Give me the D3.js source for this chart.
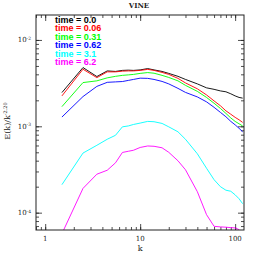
<!DOCTYPE html>
<html>
<head>
<meta charset="utf-8">
<script src="https://cdn.jsdelivr.net/npm/d3@7"></script>
<style>
body { margin: 0; background: #fff; }
</style>
</head>
<body>
<svg id="chart" width="258" height="258"></svg>
<script>
// wavenumbers shared by every spectrum
var kValues = [1.5, 2.5, 3.5, 4.5, 5.5, 6.5, 7.5, 8.5, 10, 12, 14, 17, 20, 25, 30, 40, 50, 60, 70, 80, 90, 100, 110, 120];

// compensated spectra E(k)/k^-2.20, one array per output time
var time00  = [2.46e-3, 4.79e-3, 3.77e-3, 4.38e-3, 4.32e-3, 4.44e-3, 4.47e-3, 4.44e-3, 4.50e-3, 4.66e-3, 4.50e-3, 4.32e-3, 4.10e-3, 3.79e-3, 3.49e-3, 3.10e-3, 2.79e-3, 2.68e-3, 2.57e-3, 2.51e-3, 2.38e-3, 2.25e-3, 2.16e-3, 2.12e-3];
var time006 = [2.25e-3, 4.58e-3, 3.66e-3, 4.27e-3, 4.27e-3, 4.35e-3, 4.38e-3, 4.38e-3, 4.44e-3, 4.56e-3, 4.44e-3, 4.21e-3, 3.99e-3, 3.59e-3, 3.18e-3, 2.72e-3, 2.31e-3, 1.97e-3, 1.73e-3, 1.51e-3, 1.38e-3, 1.27e-3, 1.19e-3, 1.11e-3];
var time031 = [1.69e-3, 3.21e-3, 3.36e-3, 3.64e-3, 3.79e-3, 3.89e-3, 3.94e-3, 3.99e-3, 4.10e-3, 4.19e-3, 4.12e-3, 3.89e-3, 3.68e-3, 3.36e-3, 2.98e-3, 2.54e-3, 2.16e-3, 1.85e-3, 1.61e-3, 1.41e-3, 1.25e-3, 1.14e-3, 1.07e-3, 1.01e-3];
var time062 = [1.28e-3, 2.21e-3, 2.90e-3, 3.23e-3, 3.27e-3, 3.30e-3, 3.40e-3, 3.49e-3, 3.61e-3, 3.59e-3, 3.49e-3, 3.31e-3, 3.10e-3, 2.75e-3, 2.47e-3, 2.19e-3, 1.92e-3, 1.66e-3, 1.45e-3, 1.29e-3, 1.14e-3, 1.04e-3, 9.48e-4, 8.64e-4];
var time31  = [2.11e-4, 4.90e-4, 6.03e-4, 7.08e-4, 7.87e-4, 9.86e-4, 1.01e-3, 1.05e-3, 1.09e-3, 1.14e-3, 1.13e-3, 1.08e-3, 9.86e-4, 8.64e-4, 7.08e-4, 4.81e-4, 3.27e-4, 2.41e-4, 2.00e-4, 1.82e-4, 1.77e-4, 1.61e-4, 1.45e-4, 1.27e-4];
var time62  = [5.71e-5, 1.91e-4, 2.79e-4, 3.10e-4, 3.78e-4, 4.98e-4, 5.14e-4, 5.28e-4, 5.69e-4, 5.92e-4, 5.87e-4, 5.64e-4, 5.00e-4, 3.99e-4, 3.14e-4, 1.75e-4, 9.48e-5, 6.95e-5, 6.84e-5, 6.79e-5, 6.71e-5, 6.66e-5, 6.36e-5, 5.60e-5];

var seriesLabels = ["time = 0.0", "time = 0.06", "time = 0.31", "time = 0.62", "time = 3.1", "time = 6.2"];
var seriesValues = [time00, time006, time031, time062, time31, time62];
var seriesColors = ["#000000", "#ff0000", "#00ff00", "#0000ff", "#00ffff", "#ff00ff"];

var xTickLabels = ["1", "10", "100"];
var xTickValues = [1, 10, 100];
var yTickValues = [1e-4, 1e-3, 1e-2];
var yTickExponents = ["-4", "-3", "-2"];

var svg = d3.select("#chart");
var pLeft = 36, pRight = 244, pTop = 15, pBottom = 230;

var x = d3.scaleLog().domain([0.8, 124]).range([pLeft, pRight]);
var y = d3.scaleLog().domain([6.3e-5, 1.945e-2]).range([pBottom, pTop]);

svg.append("defs").append("clipPath").attr("id", "plotclip")
    .append("rect")
    .attr("x", pLeft).attr("y", pTop)
    .attr("width", pRight - pLeft).attr("height", pBottom - pTop);

// minor ticks for the log axes
var xMinor = [];
[0.1, 1, 10, 100].forEach(function(d){
    for (var i = 1; i < 10; i++) {
        var v = d * i;
        if (v >= 0.8 && v <= 124) xMinor.push(v);
    }
});
var yMinor = [];
[1e-5, 1e-4, 1e-3, 1e-2].forEach(function(d){
    for (var i = 1; i < 10; i++) {
        var v = d * i;
        if (v >= 6.3e-5 && v <= 1.945e-2) yMinor.push(v);
    }
});

function drawAxis(axis, pos, values, size){
    svg.append("g")
        .attr("transform", pos)
        .call(axis.tickValues(values).tickSize(size).tickFormat(""))
        .call(function(g){
            g.select(".domain").remove();
            g.selectAll("line").attr("stroke", "#222").attr("stroke-width", 0.8);
        });
}

drawAxis(d3.axisBottom(x), "translate(0," + pBottom + ")", xMinor, -3);
drawAxis(d3.axisBottom(x), "translate(0," + pBottom + ")", xTickValues, -6);
drawAxis(d3.axisTop(x), "translate(0," + pTop + ")", xMinor, -3);
drawAxis(d3.axisTop(x), "translate(0," + pTop + ")", xTickValues, -6);
drawAxis(d3.axisLeft(y), "translate(" + pLeft + ",0)", yMinor, -3);
drawAxis(d3.axisLeft(y), "translate(" + pLeft + ",0)", yTickValues, -6);
drawAxis(d3.axisRight(y), "translate(" + pRight + ",0)", yMinor, -3);
drawAxis(d3.axisRight(y), "translate(" + pRight + ",0)", yTickValues, -6);

// lines
var line = d3.line()
    .x(function(d){ return x(d[0]); })
    .y(function(d){ return y(d[1]); });

var plot = svg.append("g").attr("clip-path", "url(#plotclip)");
seriesValues.forEach(function(vals, i){
    plot.append("path")
        .datum(kValues.map(function(k, j){ return [k, vals[j]]; }))
        .attr("fill", "none")
        .attr("stroke", seriesColors[i])
        .attr("stroke-width", 0.9)
        .attr("d", line);
});

// frame
svg.append("rect")
    .attr("x", pLeft).attr("y", pTop)
    .attr("width", pRight - pLeft).attr("height", pBottom - pTop)
    .attr("fill", "none").attr("stroke", "#222").attr("stroke-width", 1);

// tick labels
var tickFont = "DejaVu Serif";
xTickLabels.forEach(function(t, i){
    svg.append("text")
        .attr("x", x(xTickValues[i])).attr("y", 240.5)
        .attr("text-anchor", "middle")
        .attr("font-family", tickFont).attr("font-size", 7)
        .attr("fill", "#222")
        .text(t);
});
yTickValues.forEach(function(v, i){
    var t = svg.append("text")
        .attr("x", pLeft - 5).attr("y", y(v) + 2.5)
        .attr("text-anchor", "end")
        .attr("font-family", tickFont).attr("font-size", 7)
        .attr("fill", "#222");
    t.append("tspan").text("10");
    t.append("tspan").attr("dy", -2.5).attr("font-size", 4.5).text(yTickExponents[i]);
});

// axis titles
svg.append("text")
    .attr("x", x(10)).attr("y", 251)
    .attr("text-anchor", "middle")
    .attr("font-family", tickFont).attr("font-size", 8)
    .attr("fill", "#222")
    .text("k");

var yl = svg.append("text")
    .attr("transform", "translate(9.5,121) rotate(-90)")
    .attr("text-anchor", "middle")
    .attr("font-family", tickFont).attr("font-size", 8)
    .attr("fill", "#222");
yl.append("tspan").text("E(k)/k");
yl.append("tspan").attr("dy", -3).attr("font-size", 5).text("-2.20");

svg.append("text")
    .attr("x", 139).attr("y", 7.5)
    .attr("text-anchor", "middle")
    .attr("font-family", tickFont).attr("font-size", 7).attr("font-weight", "bold")
    .attr("fill", "#222")
    .text("VINE");

// legend
seriesLabels.forEach(function(s, i){
    svg.append("text")
        .attr("x", 55).attr("y", 22.5 + i * 8.5)
        .attr("font-family", "Liberation Sans").attr("font-size", 9).attr("font-weight", "bold")
        .attr("fill", seriesColors[i])
        .text(s);
});
</script>
</body>
</html>
